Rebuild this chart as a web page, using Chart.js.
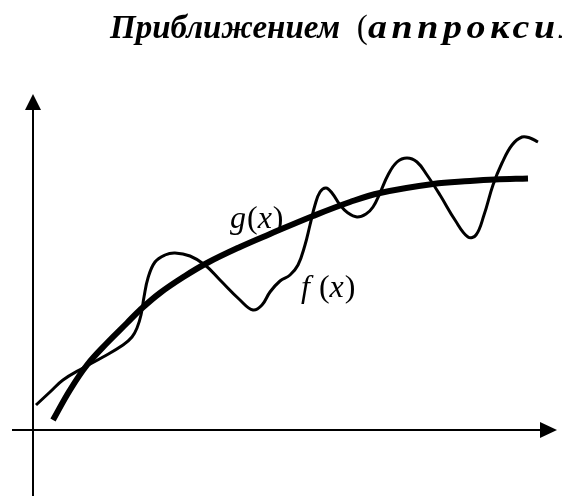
<!DOCTYPE html>
<html>
<head>
<meta charset="utf-8">
<script src="https://cdn.jsdelivr.net/npm/chart.js@4"></script>
<style>
  html, body { margin: 0; padding: 0; background: #fff; overflow: hidden; }
  #wrap { position: relative; width: 562px; height: 496px; overflow: hidden; }
  #title {
    position: absolute; left: 110px; top: 11px; white-space: nowrap;
    font-family: "Liberation Serif", "Times New Roman", serif;
    font-size: 33px; line-height: 33px; font-weight: bold; font-style: italic; color: #000;
  }
  #title .par { font-style: normal; font-weight: normal; }
  #title .ancho { display: inline-block; letter-spacing: 4px; transform: scaleX(1.15); transform-origin: left center; }
  canvas { position: absolute; left: 0; top: 0; }
</style>
</head>
<body>
<div id="wrap">
  <canvas id="grafico" width="562" height="496"></canvas>
  <div id="title">Приближением&nbsp; <span class="par">(</span><span class="ancho">аппроксимацией)</span></div>
</div>
<script>
// f(x) - кривая с колебаниями
const fX = [0.06, 0.34, 0.60, 1.00, 1.40, 1.80, 1.98, 2.08, 2.16, 2.22, 2.30, 2.44, 2.64, 2.84, 3.14, 3.44, 3.74,
  4.14, 4.40, 4.58, 4.74, 4.94, 5.14, 5.30, 5.44, 5.54, 5.64, 5.74, 5.86, 5.98, 6.14, 6.30, 6.48, 6.66,
  6.80, 6.94, 7.10, 7.28, 7.48, 7.68, 7.88, 8.14, 8.44, 8.70, 8.86, 9.02, 9.20, 9.38, 9.58, 9.78, 9.94, 10.10];
const fY = [0.50, 0.76, 1.00, 1.24, 1.46, 1.70, 1.86, 2.04, 2.30, 2.66, 3.04, 3.36, 3.50, 3.54, 3.48, 3.30, 3.00,
  2.60, 2.40, 2.50, 2.76, 2.98, 3.10, 3.30, 3.70, 4.10, 4.50, 4.76, 4.84, 4.74, 4.50, 4.34, 4.26, 4.32,
  4.46, 4.74, 5.10, 5.36, 5.44, 5.36, 5.10, 4.70, 4.20, 3.86, 3.90, 4.30, 4.90, 5.34, 5.70, 5.86, 5.84, 5.76];

// g(x) - гладкое приближение
const gX = [0.40, 0.74, 1.08, 1.48, 1.88, 2.14, 2.54, 3.04, 3.48, 4.14, 4.74, 5.60, 6.34, 6.94, 8.00, 8.74, 9.24, 9.90];
const gY = [0.20, 0.80, 1.30, 1.74, 2.14, 2.40, 2.74, 3.08, 3.34, 3.66, 3.92, 4.28, 4.56, 4.74, 4.92, 4.98, 5.01, 5.03];

// подписи кривых
const etiquetas = [
  { partes: [['g', 'italic'], ['(', 'normal'], ['x', 'italic'], [')', 'normal']], x: 3.94, y: 4.04 },
  { partes: [['f', 'italic'], [' (', 'normal'], ['x', 'italic'], [')', 'normal']], x: 5.36, y: 2.66 }
];

const toPts = (xs, ys) => xs.map((x, i) => ({ x: x, y: ys[i] }));

// ejes con flechas
const ejes = {
  id: 'ejes',
  beforeDatasetsDraw(chart) {
    const ctx = chart.ctx;
    const sx = chart.scales.x, sy = chart.scales.y;
    const x0 = sx.getPixelForValue(0), y0 = sy.getPixelForValue(0);
    const xIni = sx.getPixelForValue(-0.42), xFin = sx.getPixelForValue(10.48);
    const yIni = sy.getPixelForValue(-1.4), yFin = sy.getPixelForValue(6.72);
    ctx.save();
    ctx.strokeStyle = '#000';
    ctx.fillStyle = '#000';
    ctx.lineWidth = 2;
    ctx.beginPath();
    ctx.moveTo(xIni, y0); ctx.lineTo(xFin - 10, y0);
    ctx.moveTo(x0, yIni); ctx.lineTo(x0, yFin + 10);
    ctx.stroke();
    // flecha x
    ctx.beginPath();
    ctx.moveTo(xFin, y0); ctx.lineTo(xFin - 17, y0 - 8); ctx.lineTo(xFin - 17, y0 + 8);
    ctx.closePath(); ctx.fill();
    // flecha y
    ctx.beginPath();
    ctx.moveTo(x0, yFin); ctx.lineTo(x0 - 8, yFin + 16); ctx.lineTo(x0 + 8, yFin + 16);
    ctx.closePath(); ctx.fill();
    ctx.restore();
  },
  afterDatasetsDraw(chart) {
    const ctx = chart.ctx;
    const sx = chart.scales.x, sy = chart.scales.y;
    ctx.save();
    ctx.fillStyle = '#000';
    ctx.textBaseline = 'alphabetic';
    etiquetas.forEach(et => {
      let px = sx.getPixelForValue(et.x);
      const py = sy.getPixelForValue(et.y);
      et.partes.forEach(([txt, estilo]) => {
        ctx.font = estilo + ' 32px "Liberation Serif", "Times New Roman", serif';
        ctx.fillText(txt, px, py);
        px += ctx.measureText(txt).width + (estilo === 'italic' ? 1 : 0);
      });
    });
    ctx.restore();
  }
};

new Chart(document.getElementById('grafico'), {
  type: 'line',
  data: {
    datasets: [
      {
        label: 'f(x)',
        data: toPts(fX, fY),
        borderColor: '#000',
        borderWidth: 3,
        pointRadius: 0,
        tension: 0.4,
        borderCapStyle: 'butt',
        fill: false
      },
      {
        label: 'g(x)',
        data: toPts(gX, gY),
        borderColor: '#000',
        borderWidth: 6,
        pointRadius: 0,
        tension: 0.4,
        borderCapStyle: 'butt',
        fill: false
      }
    ]
  },
  options: {
    responsive: false,
    animation: false,
    events: [],
    layout: { padding: 0 },
    plugins: { legend: { display: false }, tooltip: { enabled: false }, title: { display: false } },
    scales: {
      x: { type: 'linear', min: -0.66, max: 10.58, display: false },
      y: { type: 'linear', min: -1.32, max: 8.6, display: false }
    }
  },
  plugins: [ejes]
});
</script>
</body>
</html>
